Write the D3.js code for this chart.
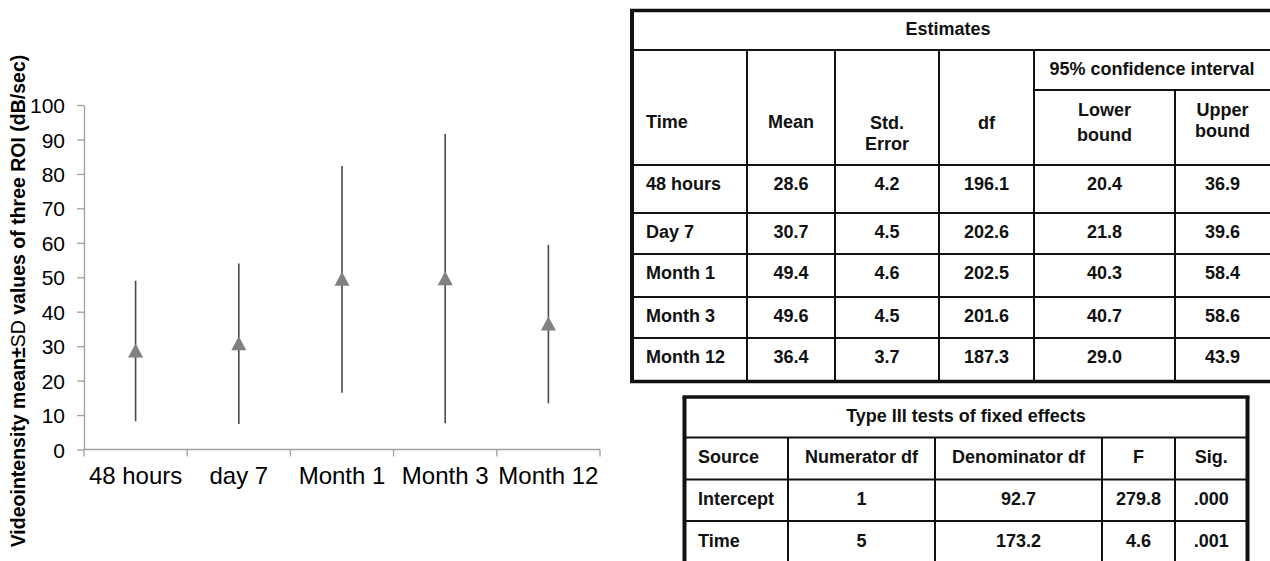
<!DOCTYPE html>
<html>
<head>
<meta charset="utf-8">
<script src="https://cdn.jsdelivr.net/npm/d3@7"></script>
<style>
  html, body { margin: 0; padding: 0; background: #fff; }
  svg { display: block; font-family: "Liberation Sans", Arial, sans-serif; }
</style>
</head>
<body>
<svg id="fig" width="1270" height="561"></svg>
<script>
// ---- chart data: mean ± SD of videointensity per time point ----
const categories = ["48 hours", "day 7", "Month 1", "Month 3", "Month 12"];
const means = [28.6, 30.7, 49.4, 49.6, 36.4];
const sds = [20.4, 23.3, 32.9, 42.0, 23.0];
const yTicks = [0, 10, 20, 30, 40, 50, 60, 70, 80, 90, 100];
const yTitle = ["Videointensity mean±", "SD", " values of three ROI (dB/sec)"];

// ---- estimates table ----
const estTitle = "Estimates";
const estTimes = ["48 hours", "Day 7", "Month 1", "Month 3", "Month 12"];
const estMean = [28.6, 30.7, 49.4, 49.6, 36.4];
const estSE = [4.2, 4.5, 4.6, 4.5, 3.7];
const estDf = [196.1, 202.6, 202.5, 201.6, 187.3];
const estLower = [20.4, 21.8, 40.3, 40.7, 29.0];
const estUpper = [36.9, 39.6, 58.4, 58.6, 43.9];

// ---- type III tests table ----
const testTitle = "Type III tests of fixed effects";
const testHeaders = ["Source", "Numerator df", "Denominator df", "F", "Sig."];
const testSources = ["Intercept", "Time"];
const testNumDf = [1, 5];
const testDenDf = [92.7, 173.2];
const testF = [279.8, 4.6];
const testSig = [".000", ".001"];

const svg = d3.select("#fig");

// ================= error-bar chart =================
const x = d3.scaleBand().domain(categories).range([84, 600]);
const y = d3.scaleLinear().domain([0, 100]).range([449.5, 105]);
const axisColor = "#a0a0a0";

const yAxis = svg.append("g")
  .attr("transform", "translate(84,0)")
  .call(d3.axisLeft(y).tickValues(yTicks).tickSize(7).tickSizeOuter(0).tickPadding(12));
yAxis.select(".domain").attr("stroke", axisColor).attr("stroke-width", 1.3);
yAxis.selectAll(".tick line").attr("stroke", axisColor).attr("stroke-width", 1.3);
yAxis.selectAll(".tick text")
  .attr("font-family", "Liberation Sans, Arial, sans-serif")
  .attr("font-size", 21).attr("fill", "#000").attr("dy", "0.36em");

// x axis: baseline plus ticks at category boundaries
const xg = svg.append("g");
xg.append("line")
  .attr("x1", x.range()[0]).attr("x2", x.range()[1])
  .attr("y1", y(0)).attr("y2", y(0))
  .attr("stroke", axisColor).attr("stroke-width", 1.3);
const bounds = categories.map(c => x(c)).concat([x.range()[1]]);
xg.selectAll("line.bt").data(bounds).join("line")
  .attr("class", "bt")
  .attr("x1", d => d).attr("x2", d => d)
  .attr("y1", y(0)).attr("y2", y(0) + 7)
  .attr("stroke", axisColor).attr("stroke-width", 1.3);
xg.selectAll("text").data(categories).join("text")
  .attr("x", d => x(d) + x.bandwidth() / 2)
  .attr("y", 484)
  .attr("text-anchor", "middle")
  .attr("font-size", 24)
  .attr("fill", "#000")
  .text(d => d);

// error bars (mean ± SD)
const bars = categories.map((c, i) => ({ c, m: means[i], s: sds[i] }));
svg.append("g").selectAll("line").data(bars).join("line")
  .attr("x1", d => x(d.c) + x.bandwidth() / 2)
  .attr("x2", d => x(d.c) + x.bandwidth() / 2)
  .attr("y1", d => y(d.m + d.s))
  .attr("y2", d => y(d.m - d.s))
  .attr("stroke", "#4a4a4a")
  .attr("stroke-width", 1.6);

// triangle markers at the means
svg.append("g").selectAll("path").data(bars).join("path")
  .attr("d", d => {
    const cx = x(d.c) + x.bandwidth() / 2, cy = y(d.m);
    return `M${cx},${cy - 7.5}L${cx + 7.5},${cy + 6.5}L${cx - 7.5},${cy + 6.5}Z`;
  })
  .attr("fill", "#808080");

// y-axis title
const yt = svg.append("text")
  .attr("transform", "translate(25,301) rotate(-90)")
  .attr("text-anchor", "middle")
  .attr("font-size", 19.5)
  .attr("font-weight", "bold")
  .attr("fill", "#000");
yt.selectAll("tspan").data(yTitle).join("tspan")
  .attr("font-weight", (d, i) => i === 1 ? "normal" : "bold")
  .text(d => d);

// ================= tables =================
const fmt = v => (typeof v === "number" ? v.toFixed(1) : v);
const ink = "#111";
const tfont = 18;

function hline(g, x1, x2, yy, w) {
  g.append("line").attr("x1", x1).attr("x2", x2).attr("y1", yy).attr("y2", yy)
    .attr("stroke", ink).attr("stroke-width", w);
}
function vline(g, xx, y1, y2, w) {
  g.append("line").attr("x1", xx).attr("x2", xx).attr("y1", y1).attr("y2", y2)
    .attr("stroke", ink).attr("stroke-width", w);
}
function cell(g, txt, xx, yy, anchor) {
  g.append("text").attr("x", xx).attr("y", yy)
    .attr("dy", "0.35em")
    .attr("text-anchor", anchor || "middle")
    .attr("font-size", tfont).attr("font-weight", "bold").attr("fill", ink)
    .text(txt);
}

// --- Estimates ---
{
  const g = svg.append("g");
  const L = 632, R = 1272, T = 10.5, B = 381.5;
  const cols = [L, 747, 835, 939, 1034, 1175, R];
  const titleB = 50, subB = 90, headB = 165;
  const rows = [headB, 213, 254, 297, 338, B];

  hline(g, L, R, titleB, 2);
  hline(g, cols[4], R, subB, 2);
  hline(g, L, R, headB, 2);
  rows.slice(1, -1).forEach(r => hline(g, L, R, r, 2));
  cols.slice(1, -1).forEach((c, i) => vline(g, c, i === 4 ? subB : titleB, B, 2));
  // heavy outer frame
  hline(g, L - 2, R, T, 3.5);
  hline(g, L - 2, R, B, 3.5);
  vline(g, L, T, B, 4);

  const mid = i => (cols[i] + cols[i + 1]) / 2;
  cell(g, estTitle, (L + 1270) / 2 - 3, 28.5);
  cell(g, "Time", 646, 122, "start");
  cell(g, "Mean", mid(1), 122);
  cell(g, "Std.", mid(2), 123);
  cell(g, "Error", mid(2), 144);
  cell(g, "df", mid(3), 122.5);
  cell(g, "95% confidence interval", (cols[4] + 1270) / 2, 68.5);
  cell(g, "Lower", mid(4), 109.5);
  cell(g, "bound", mid(4), 135);
  cell(g, "Upper", (cols[5] + 1270) / 2, 109.5);
  cell(g, "bound", (cols[5] + 1270) / 2, 131);

  const cols5 = [estMean, estSE, estDf, estLower, estUpper];
  estTimes.forEach((t, r) => {
    const cy = rows[r] + 18.3;
    cell(g, t, 646, cy, "start");
    cols5.forEach((arr, k) => {
      const cx = k === 4 ? (cols[5] + 1270) / 2 : mid(k + 1);
      cell(g, fmt(arr[r]), cx, cy);
    });
  });
}

// --- Type III tests ---
{
  const g = svg.append("g");
  const L = 684.5, R = 1247.5, T = 397, B = 565;
  const cols = [L, 788, 935, 1102, 1175, R];
  const titleB = 437.5, headB = 479.5;
  const rows = [headB, 521, 563];

  hline(g, L, R, titleB, 2);
  hline(g, L, R, headB, 2);
  hline(g, L, R, rows[1], 2);
  cols.slice(1, -1).forEach(c => vline(g, c, titleB, B, 2));
  hline(g, L - 2, R + 2, T, 3.5);
  vline(g, L, T, B, 4);
  vline(g, R, T, B, 4);

  const mid = i => (cols[i] + cols[i + 1]) / 2;
  cell(g, testTitle, (L + R) / 2, 416);
  testHeaders.forEach((h, i) => {
    if (i === 0) cell(g, h, 698, 457, "start");
    else cell(g, h, mid(i), 457);
  });
  testSources.forEach((s, r) => {
    const cy = rows[r] + 19.5;
    cell(g, s, 698, cy, "start");
    cell(g, String(testNumDf[r]), mid(1), cy);
    cell(g, fmt(testDenDf[r]), mid(2), cy);
    cell(g, fmt(testF[r]), mid(3), cy);
    cell(g, testSig[r], mid(4), cy);
  });
}
</script>
</body>
</html>
